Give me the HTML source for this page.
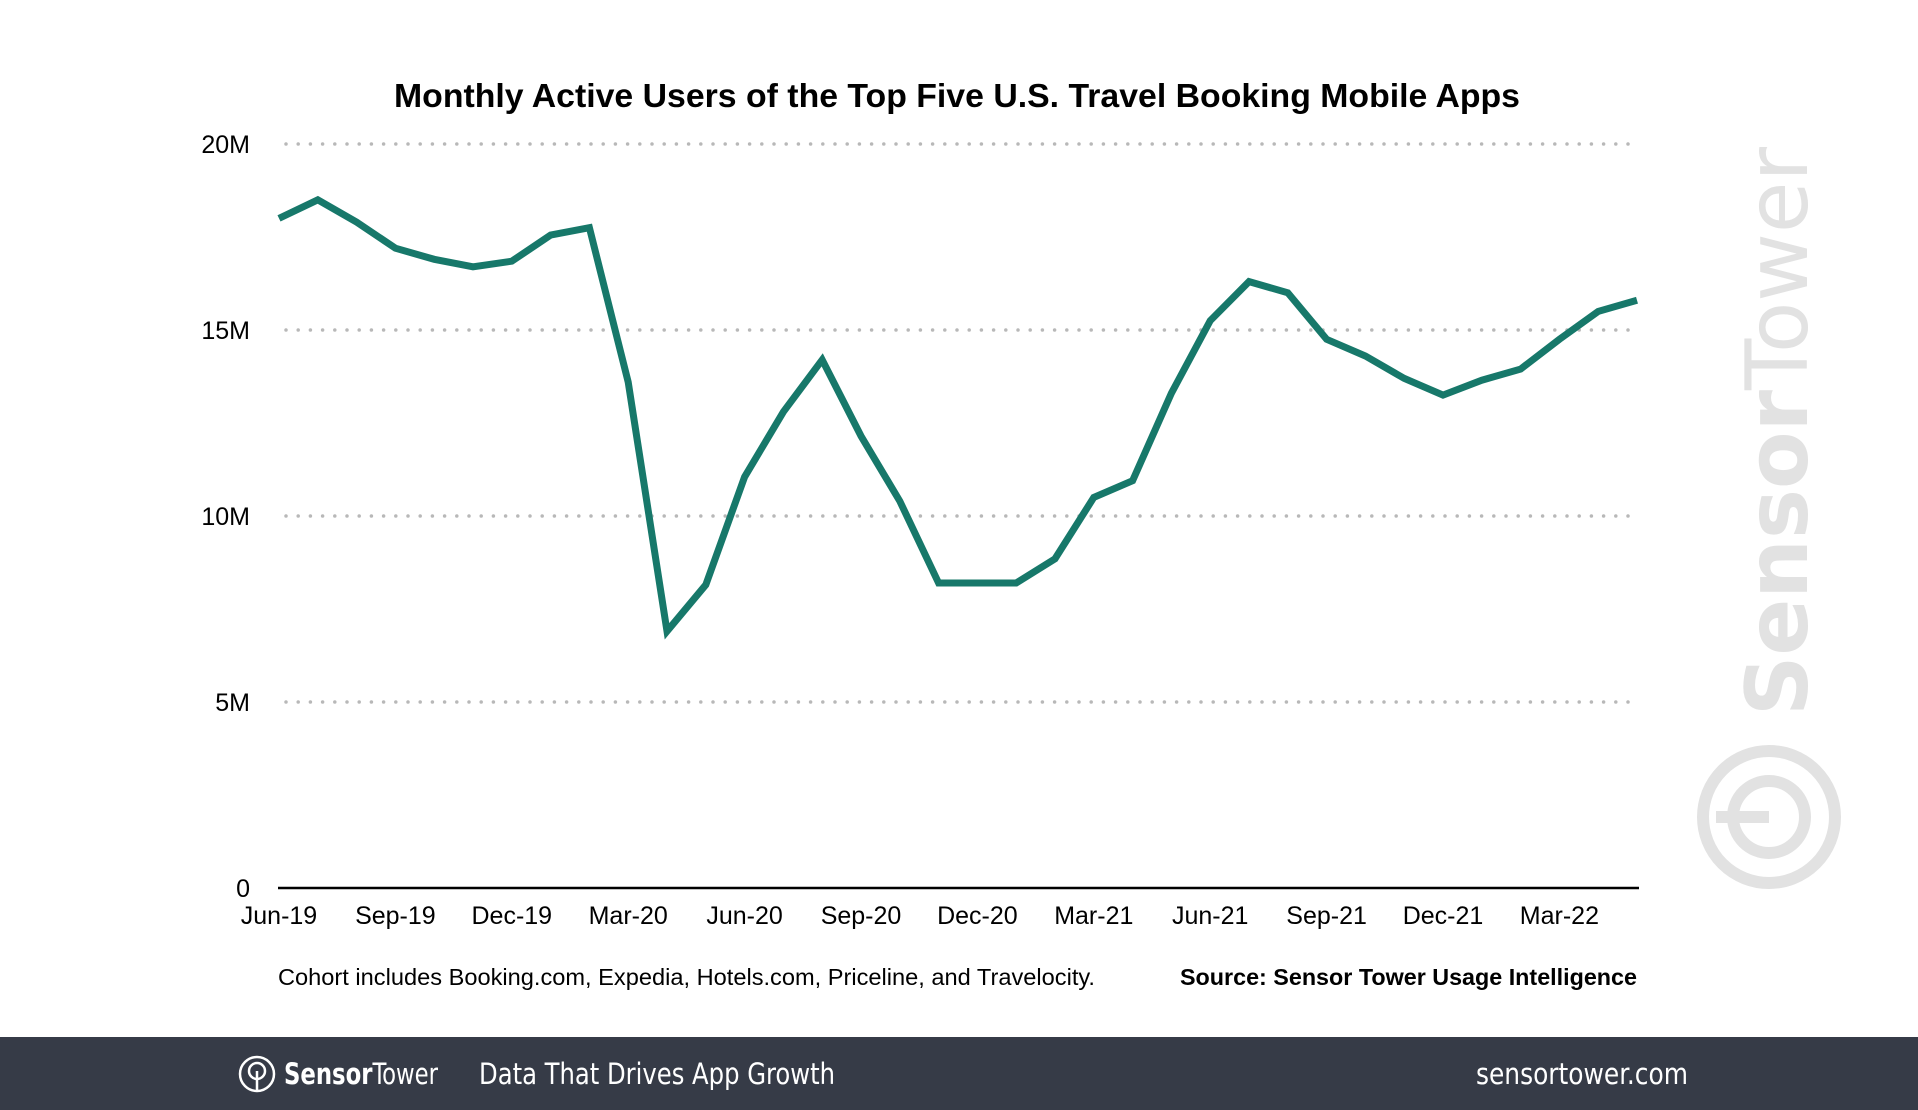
<!DOCTYPE html>
<html><head><meta charset="utf-8"><style>
html,body{margin:0;padding:0;background:#fff;}
svg{display:block;font-family:"Liberation Sans",sans-serif;}
</style></head><body>
<svg id="chart" width="1918" height="1110" viewBox="0 0 1918 1110">
<text x="394" y="107" textLength="1126" lengthAdjust="spacingAndGlyphs" font-size="33" font-weight="bold" fill="#000">Monthly Active Users of the Top Five U.S. Travel Booking Mobile Apps</text>
<g id="grid"></g>
<g id="yticks"></g>
<g id="xticks"></g>
<line x1="278" y1="888" x2="1639" y2="888" stroke="#000" stroke-width="2.5"/>
<path id="series" fill="none" stroke="#17786a" stroke-width="7" stroke-linejoin="miter"/>
<text x="278" y="985" textLength="817" lengthAdjust="spacingAndGlyphs" font-size="23" fill="#000">Cohort includes Booking.com, Expedia, Hotels.com, Priceline, and Travelocity.</text>
<text x="1180" y="985" textLength="457" lengthAdjust="spacingAndGlyphs" font-size="23" font-weight="bold" fill="#000">Source: Sensor Tower Usage Intelligence</text>
<g fill="#e2e2e2">
<text transform="translate(1807,716) rotate(-90)" textLength="569" lengthAdjust="spacingAndGlyphs" font-size="86" font-family="'DejaVu Sans',sans-serif" fill="#e2e2e2"><tspan font-weight="bold">Sensor</tspan>Tower</text>
<circle cx="1769" cy="817" r="66" fill="none" stroke="#e2e2e2" stroke-width="12"/>
<circle cx="1769" cy="817" r="36" fill="none" stroke="#e2e2e2" stroke-width="12"/>
<rect x="1716" y="811" width="53" height="12"/>
</g>
<rect x="0" y="1037" width="1918" height="73" fill="#363b47"/>
<g>
<circle cx="257" cy="1074" r="17" fill="none" stroke="#fff" stroke-width="2.5"/>
<circle cx="257" cy="1071" r="8" fill="none" stroke="#fff" stroke-width="2.5"/>
<line x1="257" y1="1071" x2="257" y2="1091" stroke="#fff" stroke-width="2.5"/>
</g>
<text x="284" y="1084" textLength="154" lengthAdjust="spacingAndGlyphs" font-size="29" fill="#fff" font-family="'DejaVu Sans Condensed','Liberation Sans Narrow',sans-serif"><tspan font-weight="bold">Sensor</tspan>Tower</text>
<text x="479" y="1084" textLength="356" lengthAdjust="spacingAndGlyphs" font-size="29" fill="#fff" font-family="'DejaVu Sans Condensed','Liberation Sans Narrow',sans-serif">Data That Drives App Growth</text>
<text x="1476" y="1084" textLength="212" lengthAdjust="spacingAndGlyphs" font-size="29" fill="#fff" font-family="'DejaVu Sans Condensed','Liberation Sans Narrow',sans-serif">sensortower.com</text>
</svg>
<script>
const months = ["Jun-19","Jul-19","Aug-19","Sep-19","Oct-19","Nov-19","Dec-19","Jan-20","Feb-20","Mar-20","Apr-20","May-20","Jun-20","Jul-20","Aug-20","Sep-20","Oct-20","Nov-20","Dec-20","Jan-21","Feb-21","Mar-21","Apr-21","May-21","Jun-21","Jul-21","Aug-21","Sep-21","Oct-21","Nov-21","Dec-21","Jan-22","Feb-22","Mar-22","Apr-22","May-22"];
const mau = [18.0,18.5,17.9,17.2,16.9,16.7,16.85,17.55,17.75,13.6,6.9,8.15,11.05,12.8,14.2,12.15,10.4,8.2,8.2,8.2,8.85,10.5,10.95,13.3,15.25,16.3,16.0,14.75,14.3,13.7,13.25,13.65,13.95,14.75,15.5,15.8];
const yTicks = [0,5,10,15,20];
const yTickLabels = ["0","5M","10M","15M","20M"];
const xTickLabels = ["Jun-19","Sep-19","Dec-19","Mar-20","Jun-20","Sep-20","Dec-20","Mar-21","Jun-21","Sep-21","Dec-21","Mar-22"];

const NS="http://www.w3.org/2000/svg";
const x0=279, x1=1637, y0=888, yTop=144;
function xs(i){return x0+(x1-x0)*i/(months.length-1);}
function ys(v){return y0-(y0-yTop)*v/20;}
const grid=document.getElementById('grid'), yt=document.getElementById('yticks'), xt=document.getElementById('xticks');
yTicks.forEach((v,i)=>{
  if(v>0){
    const l=document.createElementNS(NS,'line');
    l.setAttribute('x1',286);l.setAttribute('x2',1633);
    l.setAttribute('y1',ys(v));l.setAttribute('y2',ys(v));
    l.setAttribute('stroke','#b8b8b8');l.setAttribute('stroke-width','3.5');
    l.setAttribute('stroke-dasharray','0 12.2');l.setAttribute('stroke-linecap','round');
    
    
    grid.appendChild(l);
  }
  const t=document.createElementNS(NS,'text');
  t.setAttribute('x',250);t.setAttribute('y',ys(v)+9);
  t.setAttribute('text-anchor','end');t.setAttribute('font-size','25');
  t.textContent=yTickLabels[i];
  
  
  yt.appendChild(t);
});
xTickLabels.forEach(lab=>{
  const i=months.indexOf(lab);
  const t=document.createElementNS(NS,'text');
  t.setAttribute('x',xs(i));t.setAttribute('y',924);
  t.setAttribute('text-anchor','middle');t.setAttribute('font-size','25');
  t.textContent=lab;
  
  
  xt.appendChild(t);
});
document.getElementById('series').setAttribute('d',mau.map((v,i)=>(i?'L':'M')+xs(i).toFixed(1)+' '+ys(v).toFixed(1)).join(' '));
</script>
</body></html>
